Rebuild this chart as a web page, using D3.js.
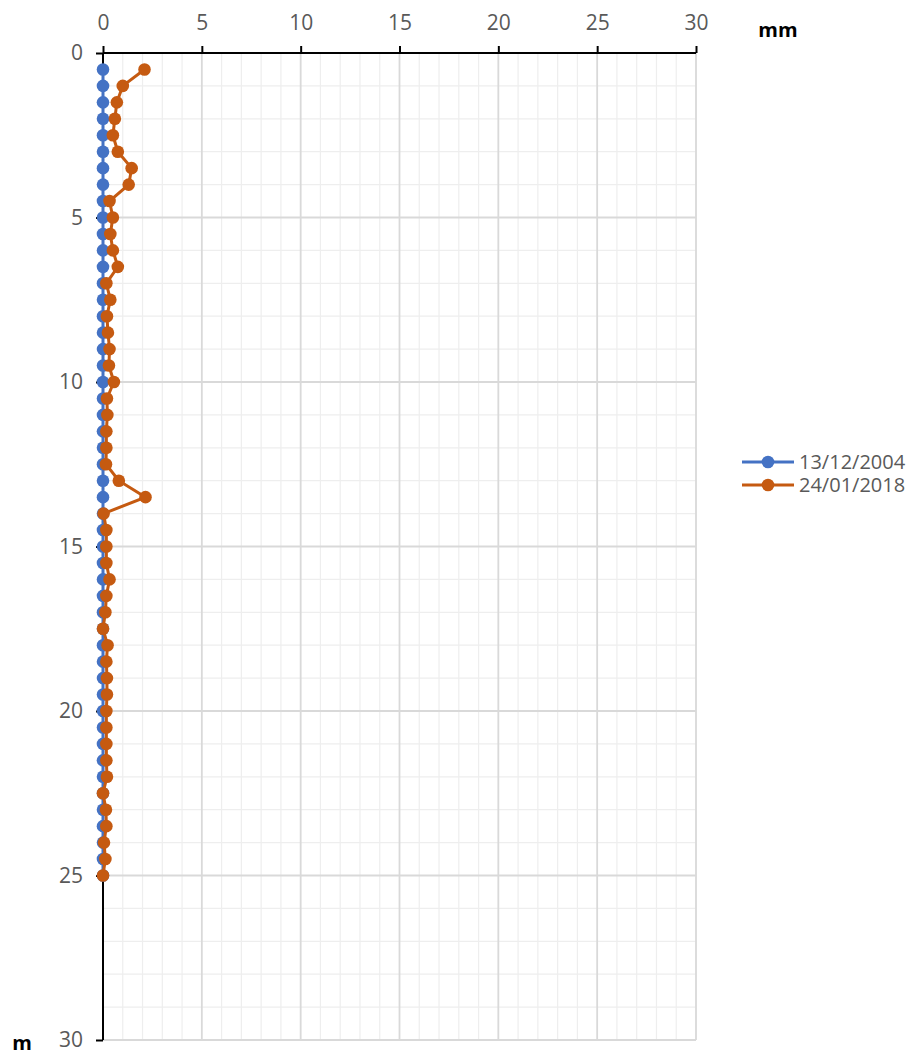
<!DOCTYPE html>
<html>
<head>
<meta charset="utf-8">
<script src="https://cdn.jsdelivr.net/npm/d3@7"></script>
<style>
  body { margin: 0; background: #fff; }
  svg { font-family: "Open Sans", sans-serif; }
</style>
</head>
<body>
<svg class="chart" width="923" height="1056"></svg>
<script>
// depth in metres, every 0.5 m
const depths = [0.5, 1, 1.5, 2, 2.5, 3, 3.5, 4, 4.5, 5, 5.5, 6, 6.5, 7, 7.5, 8, 8.5, 9, 9.5, 10,
    10.5, 11, 11.5, 12, 12.5, 13, 13.5, 14, 14.5, 15, 15.5, 16, 16.5, 17, 17.5, 18, 18.5, 19, 19.5, 20,
    20.5, 21, 21.5, 22, 22.5, 23, 23.5, 24, 24.5, 25];

const series2004 = [0, 0, 0, 0, 0, 0, 0, 0, 0, 0, 0, 0, 0, 0, 0, 0, 0, 0, 0, 0,
    0, 0, 0, 0, 0, 0, 0, 0, 0, 0, 0, 0, 0, 0, 0, 0, 0, 0, 0, 0,
    0, 0, 0, 0, 0, 0, 0, 0, 0, 0];

const series2018 = [2.1, 1.0, 0.7, 0.6, 0.5, 0.75, 1.45, 1.3, 0.33, 0.5, 0.37, 0.5, 0.75, 0.17, 0.37, 0.2, 0.25, 0.33, 0.3, 0.55,
    0.2, 0.22, 0.17, 0.17, 0.15, 0.8, 2.15, 0.03, 0.17, 0.17, 0.17, 0.33, 0.17, 0.12, 0.0, 0.23, 0.17, 0.2, 0.2, 0.17,
    0.17, 0.17, 0.17, 0.2, 0.0, 0.15, 0.17, 0.05, 0.12, 0.0];

const seriesNames = ['13/12/2004', '24/01/2018'];
const seriesColors = ['#4472C4', '#C55A11'];
const xTicks = [0, 5, 10, 15, 20, 25, 30];
const yTicks = [0, 5, 10, 15, 20, 25, 30];

const svg = d3.select('.chart');

const margin = { top: 53, left: 103 };
const innerWidth = 593;
const innerHeight = 987;

const xScale = d3.scaleLinear().domain([0, 30]).range([0, innerWidth]);
const yScale = d3.scaleLinear().domain([0, 30]).range([0, innerHeight]);

const g = svg.append('g')
    .attr('transform', `translate(${margin.left}, ${margin.top})`);

const minor = d3.range(1, 31).filter(v => v % 5 !== 0);

// minor grid every 1
g.append('g')
    .selectAll('line')
    .data(minor)
    .join('line')
    .attr('x1', d => xScale(d)).attr('x2', d => xScale(d))
    .attr('y1', 0).attr('y2', innerHeight)
    .attr('stroke', '#eeeeee').attr('stroke-width', 1.2);

g.append('g')
    .selectAll('line')
    .data(minor)
    .join('line')
    .attr('y1', d => yScale(d)).attr('y2', d => yScale(d))
    .attr('x1', 0).attr('x2', innerWidth)
    .attr('stroke', '#eeeeee').attr('stroke-width', 1.2);

// major grid every 5
g.append('g')
    .selectAll('line')
    .data(xTicks.slice(1))
    .join('line')
    .attr('x1', d => xScale(d)).attr('x2', d => xScale(d))
    .attr('y1', 0).attr('y2', innerHeight)
    .attr('stroke', '#d9d9d9').attr('stroke-width', 1.8);

g.append('g')
    .selectAll('line')
    .data(yTicks.slice(1))
    .join('line')
    .attr('y1', d => yScale(d)).attr('y2', d => yScale(d))
    .attr('x1', 0).attr('x2', innerWidth)
    .attr('stroke', '#d9d9d9').attr('stroke-width', 1.8);

// x axis on top
const xAxis = g.append('g')
    .call(d3.axisTop(xScale).tickValues(xTicks).tickSize(7).tickPadding(16));
xAxis.select('.domain').attr('stroke', '#000').attr('stroke-width', 2)
    .attr('d', `M0,0H${innerWidth}`);
xAxis.selectAll('.tick line').attr('stroke', '#000').attr('stroke-width', 2);
xAxis.selectAll('text').attr('font-size', 21).attr('fill', '#595959')
    .attr('font-family', '"Open Sans", sans-serif');

// y axis on left
const yAxis = g.append('g')
    .call(d3.axisLeft(yScale).tickValues(yTicks).tickSize(7).tickPadding(13));
yAxis.select('.domain').attr('stroke', '#000').attr('stroke-width', 2)
    .attr('d', `M0,0V${innerHeight}`);
yAxis.selectAll('.tick line').attr('stroke', '#000').attr('stroke-width', 2);
yAxis.selectAll('text').attr('font-size', 21).attr('fill', '#595959')
    .attr('font-family', '"Open Sans", sans-serif');

// axis titles
svg.append('text')
    .attr('x', 778).attr('y', 37)
    .attr('text-anchor', 'middle')
    .attr('font-size', 20).attr('font-weight', 'bold').attr('fill', '#000')
    .text('mm');

svg.append('text')
    .attr('x', 22).attr('y', 1050)
    .attr('text-anchor', 'middle')
    .attr('font-size', 20).attr('font-weight', 'bold').attr('fill', '#000')
    .text('m');

// series
const allSeries = [series2004, series2018];
const line = d3.line()
    .x(d => xScale(d[1]))
    .y(d => yScale(d[0]));

allSeries.forEach((values, i) => {
    const pts = depths.map((dep, j) => [dep, values[j]]);
    const sg = g.append('g');
    sg.append('path')
        .datum(pts)
        .attr('d', line)
        .attr('fill', 'none')
        .attr('stroke', seriesColors[i])
        .attr('stroke-width', 3);
    sg.selectAll('circle')
        .data(pts)
        .join('circle')
        .attr('cx', d => xScale(d[1]))
        .attr('cy', d => yScale(d[0]))
        .attr('r', 6.3)
        .attr('fill', seriesColors[i]);
});

// legend
const legend = svg.selectAll('.legend')
    .data(seriesNames)
    .join('g')
    .attr('class', 'legend')
    .attr('transform', (d, i) => `translate(742, ${462 + i * 23})`);

legend.append('line')
    .attr('x1', 0).attr('x2', 52)
    .attr('stroke', (d, i) => seriesColors[i])
    .attr('stroke-width', 3);
legend.append('circle')
    .attr('cx', 26).attr('r', 6.3)
    .attr('fill', (d, i) => seriesColors[i]);
legend.append('text')
    .attr('x', 57).attr('dy', '0.35em')
    .attr('font-size', 20).attr('fill', '#595959')
    .text(d => d);
</script>
</body>
</html>
